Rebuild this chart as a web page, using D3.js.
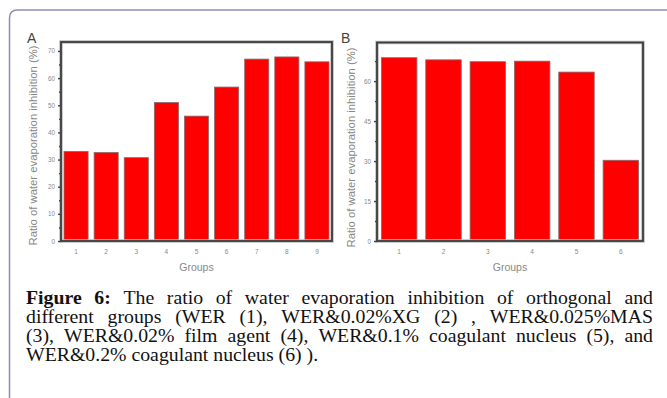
<!DOCTYPE html>
<html>
<head>
<meta charset="utf-8">
<script src="https://cdn.jsdelivr.net/npm/d3@7"></script>
<style>
  body { margin: 0; background: #fff; }
  svg { display: block; }
</style>
</head>
<body>
<script>
// data
var groupsA = ["1", "2", "3", "4", "5", "6", "7", "8", "9"];
var valuesA = [33, 32.6, 30.7, 51, 46, 56.7, 67, 67.8, 66];
var ticksA = [0, 10, 20, 30, 40, 50, 60, 70];
var minorA = [5, 15, 25, 35, 45, 55, 65];

var groupsB = ["1", "2", "3", "4", "5", "6"];
var valuesB = [68.8, 68, 67.3, 67.5, 63.4, 30.3];
var ticksB = [0, 15, 30, 45, 60];
var minorB = [7.5, 22.5, 37.5, 52.5, 67.5];

var yLabel = "Ratio of water evaporation inhibition (%)";
var captionLines = [
  [["Figure", true], ["6:", true], "The", "ratio", "of", "water", "evaporation", "inhibition", "of", "orthogonal", "and"],
  ["different", "groups", "(WER", "(1),", "WER&0.02%XG", "(2)", ",", "WER&0.025%MAS"],
  ["(3),", "WER&0.02%", "film", "agent", "(4),", "WER&0.1%", "coagulant", "nucleus", "(5),", "and"],
  ["WER&0.2%", "coagulant", "nucleus", "(6)", ")."]
];

var W = 667, H = 398;
var svg = d3.select("body").append("svg").attr("width", W).attr("height", H);

// outer rounded frame
svg.append("path")
  .attr("d", "M9.5,410 L9.5,18 Q9.5,10 17.5,10 L670,10")
  .attr("fill", "none").attr("stroke", "#8f8cba").attr("stroke-width", 1.5);

function panel(opt) {
  var g = svg.append("g");
  var x = d3.scaleBand().domain(opt.groups).range([opt.left, opt.right])
    .paddingInner(0.2).paddingOuter(0.1);
  var y = d3.scaleLinear().domain([0, opt.ymax]).range([opt.bottom, opt.top]);

  g.selectAll("rect.bar").data(opt.values).enter().append("rect")
    .attr("class", "bar")
    .attr("x", function (d, i) { return x(opt.groups[i]); })
    .attr("y", function (d) { return y(d); })
    .attr("width", x.bandwidth())
    .attr("height", function (d) { return y(0) - y(d); })
    .attr("fill", "#ff0000").attr("stroke", "#8a6a6a").attr("stroke-width", 0.8);

  // plot frame, soft halo then dark line
  g.append("rect").attr("x", opt.left).attr("y", opt.top)
    .attr("width", opt.right - opt.left).attr("height", opt.bottom - opt.top)
    .attr("fill", "none").attr("stroke", "#bbb").attr("stroke-width", 3.5);
  g.append("rect").attr("x", opt.left).attr("y", opt.top)
    .attr("width", opt.right - opt.left).attr("height", opt.bottom - opt.top)
    .attr("fill", "none").attr("stroke", "#3c3c3c").attr("stroke-width", 1.8);

  var ya = d3.axisLeft(y).tickValues(opt.ticks).tickSize(3).tickPadding(3);
  var yg = g.append("g").attr("transform", "translate(" + opt.left + ",0)").call(ya);
  yg.select(".domain").remove();
  yg.selectAll("line").attr("stroke", "#444").attr("stroke-width", 1.4);
  yg.selectAll("text").attr("fill", "#888").style("font", "6.3px Arial, 'Liberation Sans', sans-serif");

  var ym = d3.axisLeft(y).tickValues(opt.minor).tickSize(2).tickFormat("");
  var ymg = g.append("g").attr("transform", "translate(" + opt.left + ",0)").call(ym);
  ymg.select(".domain").remove();
  ymg.selectAll("line").attr("stroke", "#444").attr("stroke-width", 1.4);

  var xa = d3.axisBottom(x).tickSize(0).tickPadding(8);
  var xg = g.append("g").attr("transform", "translate(0," + opt.bottom + ")").call(xa);
  xg.select(".domain").remove();
  xg.selectAll("text").attr("fill", "#888").style("font", "6.5px Arial, 'Liberation Sans', sans-serif");

  g.append("text").attr("x", (opt.left + opt.right) / 2).attr("y", opt.bottom + 30)
    .attr("text-anchor", "middle").attr("fill", "#888")
    .style("font", "10.5px Arial, 'Liberation Sans', sans-serif").text("Groups");

  g.append("text")
    .attr("transform", "translate(" + opt.labelX + "," + opt.labelY + ") rotate(-90)")
    .attr("text-anchor", "middle").attr("fill", "#888")
    .attr("textLength", 200).attr("lengthAdjust", "spacingAndGlyphs")
    .style("font", "10px Arial, 'Liberation Sans', sans-serif").text(yLabel);

  g.append("text").attr("x", opt.letterX).attr("y", 43)
    .attr("fill", "#444").style("font", "14px Arial, 'Liberation Sans', sans-serif")
    .text(opt.letter);
}

panel({ groups: groupsA, values: valuesA, ticks: ticksA, minor: minorA, ymax: 73.3,
  left: 61, right: 332, top: 42, bottom: 241, labelX: 37, labelY: 145.5, letterX: 27, letter: "A" });
panel({ groups: groupsB, values: valuesB, ticks: ticksB, minor: minorB, ymax: 74.5,
  left: 377, right: 643, top: 42.5, bottom: 241, labelX: 355, labelY: 147.5, letterX: 341, letter: "B" });

// caption, justified by placing words; the scan is a little wider than the type
var capLeft = 26, capRight = 653, capTop = 304, capStep = 19, sx = 1.07;
var cap = svg.append("g")
  .attr("transform", "translate(" + capLeft + ",0) scale(" + sx + ",1)")
  .style("font-family", "'Liberation Serif', 'Times New Roman', serif")
  .style("font-size", "18.5px").attr("fill", "#111");
var span = (capRight - capLeft) / sx;

captionLines.forEach(function (line, li) {
  var words = line.map(function (w) {
    return typeof w === "string" ? { t: w, b: false } : { t: w[0], b: w[1] };
  });
  var nodes = words.map(function (w) {
    return cap.append("text").attr("y", capTop + li * capStep)
      .style("font-weight", w.b ? "bold" : "normal").text(w.t);
  });
  var widths = nodes.map(function (n) { return n.node().getComputedTextLength(); });
  var total = d3.sum(widths);
  var last = li === captionLines.length - 1;
  var gap = last ? 4.6 : (span - total) / (words.length - 1);
  var xpos = 0;
  nodes.forEach(function (n, i) {
    n.attr("x", xpos);
    xpos += widths[i] + gap;
  });
});
</script>
</body>
</html>
